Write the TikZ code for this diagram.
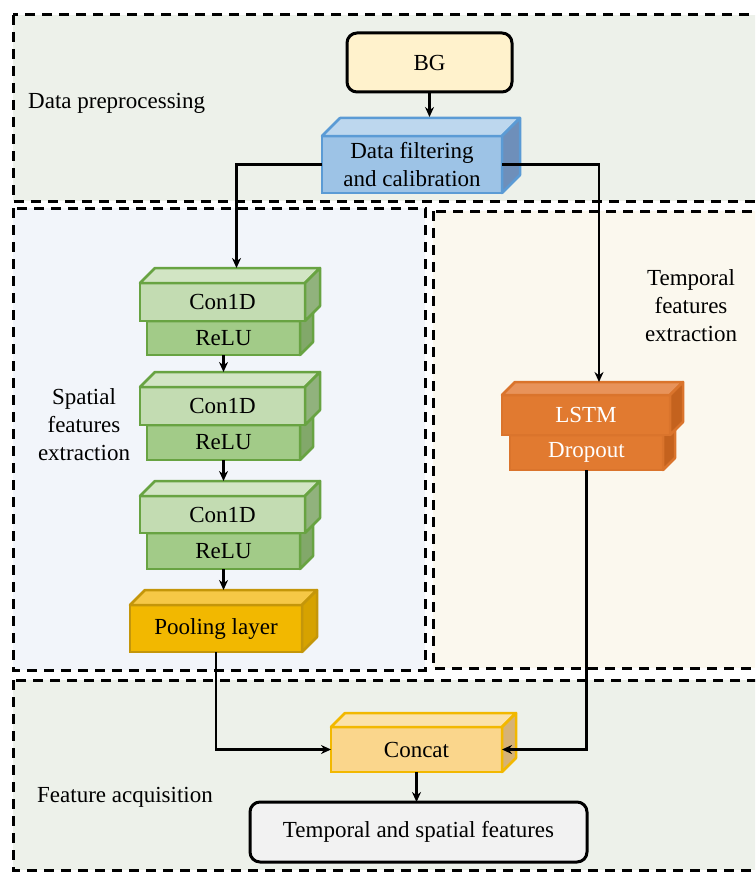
\documentclass[tikz,border=0pt]{standalone}
\usepackage{fontspec}
\setmainfont{Liberation Serif}
\usetikzlibrary{arrows.meta}
\definecolor{bgA}{RGB}{237,241,234}
\definecolor{bgS}{RGB}{242,245,250}
\definecolor{bgT}{RGB}{251,248,238}
\definecolor{bgfill}{RGB}{255,242,204}
\definecolor{fFront}{RGB}{157,195,230}
\definecolor{fTop}{RGB}{189,215,238}
\definecolor{fSide}{RGB}{110,143,186}
\definecolor{fBorder}{RGB}{91,155,213}
\definecolor{gFront}{RGB}{195,220,178}
\definecolor{gTop}{RGB}{210,229,196}
\definecolor{gSide}{RGB}{145,178,125}
\definecolor{rFront}{RGB}{162,203,136}
\definecolor{rSide}{RGB}{130,168,106}
\definecolor{gBorder}{RGB}{104,163,66}
\definecolor{pFront}{RGB}{242,184,0}
\definecolor{pTop}{RGB}{246,200,70}
\definecolor{pSide}{RGB}{214,162,0}
\definecolor{pBorder}{RGB}{196,150,10}
\definecolor{cFront}{RGB}{250,214,140}
\definecolor{cTop}{RGB}{251,226,170}
\definecolor{cSide}{RGB}{214,178,118}
\definecolor{cBorder}{RGB}{242,184,0}
\definecolor{lFront}{RGB}{225,122,48}
\definecolor{lTop}{RGB}{232,147,90}
\definecolor{lSide}{RGB}{196,98,30}
\definecolor{lBorder}{RGB}{218,116,44}
\definecolor{outfill}{RGB}{242,242,242}
\newcommand\mycube[5]{%
  \filldraw[fill=#3,draw=#5,line width=2.5pt,line join=round] (#1.north west) -- ([shift={(#2,-#2)}]#1.north west) -- ([shift={(#2,-#2)}]#1.north east) -- (#1.north east) -- cycle;
  \filldraw[fill=#4,draw=#5,line width=2.5pt,line join=round] (#1.north east) -- ([shift={(#2,-#2)}]#1.north east) -- ([shift={(#2,-#2)}]#1.south east) -- (#1.south east) -- cycle;
}
\tikzset{
  region/.style={line width=3pt,dash pattern=on 10pt off 7pt},
  cube/.style={rectangle,draw,line width=2.5pt,inner sep=0pt,outer sep=0pt,font=\fontsize{23}{27.5}\selectfont,align=center},
  rbox/.style={rectangle,rounded corners=10pt,draw=black,line width=3pt,inner sep=0pt,outer sep=0pt,font=\fontsize{23}{27.5}\selectfont},
  lbl/.style={inner sep=0pt,font=\fontsize{23}{28}\selectfont,align=center},
  arr/.style={line width=2.8pt,-{Stealth[length=10pt,width=9pt]}},
}
\begin{document}
\begin{tikzpicture}[x=1pt,y=-1pt]
\useasboundingbox (0,0) rectangle (755,872);
\clip (0,0) rectangle (755,872);
\fill[white] (0,0) rectangle (755,872);
% regions
\filldraw[region,fill=bgA] (13,15) rectangle (790,201);
\filldraw[region,fill=bgS] (13,208) rectangle (425,670);
\filldraw[region,fill=bgT] (433,211) rectangle (790,668);
\filldraw[region,fill=bgA] (13,680) rectangle (790,870);
% labels
\node[lbl,anchor=west] (lpre) at (28,103) {Data preprocessing};
\node[lbl] (lspa) at (84,425) {Spatial\\features\\extraction};
\node[lbl] (ltem) at (691,306) {Temporal\\features\\extraction};
\node[lbl,anchor=west] (lacq) at (37,797) {Feature acquisition};
% BG
\node[rbox,fill=bgfill,minimum width=165pt,minimum height=59pt] (bg) at (429.5,62.5) {BG};
% filter
\node[cube,fill=fFront,draw=fBorder,minimum width=180pt,minimum height=57pt] (filter) at (412,164.5) {Data filtering\\and calibration};
\mycube{filter}{18}{fTop}{fSide}{fBorder}
% conv blocks
\node[cube,fill=rFront,draw=gBorder,minimum width=153pt,minimum height=34pt] (relu1) at (223.5,338) {ReLU};
\mycube{relu1}{13}{gTop}{rSide}{gBorder}
\node[cube,fill=gFront,draw=gBorder,minimum width=165pt,minimum height=38pt] (c1) at (222.5,302) {Con1D};
\mycube{c1}{15}{gTop}{gSide}{gBorder}
\node[cube,fill=rFront,draw=gBorder,minimum width=153pt,minimum height=35pt] (relu2) at (223.5,442.5) {ReLU};
\mycube{relu2}{13}{gTop}{rSide}{gBorder}
\node[cube,fill=gFront,draw=gBorder,minimum width=165pt,minimum height=38pt] (c2) at (222.5,406) {Con1D};
\mycube{c2}{15}{gTop}{gSide}{gBorder}
\node[cube,fill=rFront,draw=gBorder,minimum width=153pt,minimum height=36pt] (relu3) at (223.5,551) {ReLU};
\mycube{relu3}{13}{gTop}{rSide}{gBorder}
\node[cube,fill=gFront,draw=gBorder,minimum width=165pt,minimum height=37pt] (c3) at (222.5,514.5) {Con1D};
\mycube{c3}{15}{gTop}{gSide}{gBorder}
% pooling
\node[cube,fill=pFront,draw=pBorder,minimum width=172pt,minimum height=47pt] (pool) at (216,628.5) {Pooling layer};
\mycube{pool}{15}{pTop}{pSide}{pBorder}
% LSTM
\node[cube,fill=lFront,draw=lBorder,text=white,minimum width=153pt,minimum height=35pt] (drop) at (586.5,452.5) {Dropout};
\mycube{drop}{12}{lTop}{lSide}{lBorder}
\node[cube,fill=lFront,draw=lBorder,text=white,minimum width=168pt,minimum height=40pt] (lstm) at (586,415) {LSTM};
\mycube{lstm}{13}{lTop}{lSide}{lBorder}
% concat
\node[cube,fill=cFront,draw=cBorder,minimum width=171pt,minimum height=45pt] (concat) at (416.5,749.5) {Concat};
\mycube{concat}{14}{cTop}{cSide}{cBorder}
% output
\node[rbox,fill=outfill,minimum width=337pt,minimum height=60pt] (out) at (418.5,832) {Temporal and spatial features};
% connector targets
\coordinate (filterback) at ([shift={(18,-19)}]filter.north);
\coordinate (c1back) at ([shift={(14,-15)}]c1.north);
\coordinate (c2back) at ([shift={(0,-15)}]c2.north);
\coordinate (c3back) at ([shift={(0,-15)}]c3.north);
\coordinate (poolback) at ([shift={(0,-15)}]pool.north);
\coordinate (lstmback) at ([shift={(13,-13)}]lstm.north);
% connectors
\draw[arr] (bg.south) -- (bg.south |- filterback);
\draw[arr] (filter.west) -| (c1back);
\draw[arr] (filter.east) -| (lstmback);
\draw[arr] (relu1.south) -- (relu1.south |- c2back);
\draw[arr] (relu2.south) -- (relu2.south |- c3back);
\draw[arr] (relu3.south) -- (relu3.south |- poolback);
\draw[arr] (pool.south) |- (concat.west);
\draw[arr] (drop.south) |- (concat.east);
\draw[arr] (concat.south) -- (concat.south |- out.north);
\end{tikzpicture}
\end{document}
